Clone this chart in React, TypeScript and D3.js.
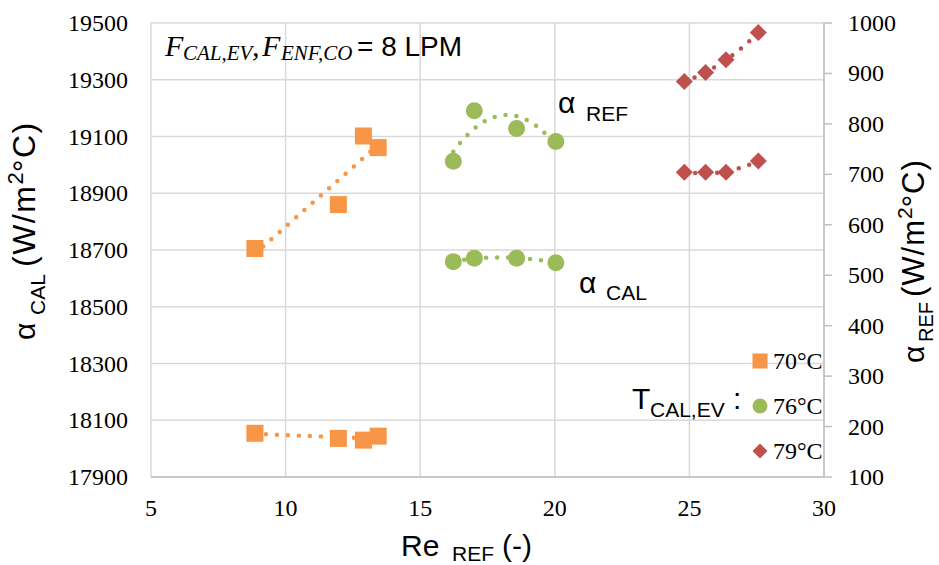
import React from "react";
import * as d3 from "d3";

// ---- data ----
const reRef70 = [8.86, 11.96, 12.89, 13.44];
const alphaCal70 = [18054, 18036, 18030, 18044];
const alphaRef70 = [553, 640, 776, 753];

const reRef76 = [16.23, 17.01, 18.58, 20.04];
const alphaCal76 = [18659, 18671, 18671, 18655];
const alphaRef76 = [726, 826, 791, 765];

const reRef79 = [24.81, 25.6, 26.36, 27.56];
const alphaCal79 = [18974, 18974, 18974, 19014];
const alphaRef79 = [884, 902, 927, 981];

const xTicks = [5, 10, 15, 20, 25, 30];
const yLeftTicks = [17900, 18100, 18300, 18500, 18700, 18900, 19100, 19300, 19500];
const yRightTicks = [100, 200, 300, 400, 500, 600, 700, 800, 900, 1000];
const legendLabels = ["70°C", "76°C", "79°C"];

const ORANGE = "#F79646";
const GREEN = "#9BBB59";
const RED = "#C0504D";
const GRID = "#d9d9d9";
const AXIS = "#bfbfbf";
const SERIF = "'Liberation Serif', 'DejaVu Serif', serif";
const SANS = "'Liberation Sans', Arial, sans-serif";

const W = 939;
const H = 565;

const x = d3.scaleLinear().domain([5, 30]).range([151, 824]);
const yL = d3.scaleLinear().domain([17900, 19500]).range([477, 23]);
const yR = d3.scaleLinear().domain([100, 1000]).range([477, 23]);

function polyFit(xs: number[], ys: number[], deg: number) {
  const mx = d3.mean(xs) as number;
  const n = deg + 1;
  const A: number[][] = Array.from({ length: n }, () => new Array(n + 1).fill(0));
  xs.forEach((xv, i) => {
    const t = xv - mx;
    for (let r = 0; r < n; r++) {
      for (let c = 0; c < n; c++) A[r][c] += Math.pow(t, r + c);
      A[r][n] += Math.pow(t, r) * ys[i];
    }
  });
  for (let i = 0; i < n; i++) {
    let p = i;
    for (let k = i + 1; k < n; k++) if (Math.abs(A[k][i]) > Math.abs(A[p][i])) p = k;
    [A[i], A[p]] = [A[p], A[i]];
    for (let k = i + 1; k < n; k++) {
      const f = A[k][i] / A[i][i];
      for (let c = i; c <= n; c++) A[k][c] -= f * A[i][c];
    }
  }
  const coef = new Array(n).fill(0);
  for (let i = n - 1; i >= 0; i--) {
    let s = A[i][n];
    for (let c = i + 1; c < n; c++) s -= A[i][c] * coef[c];
    coef[i] = s / A[i][i];
  }
  return (xv: number) => coef.reduce((acc, cf, i) => acc + cf * Math.pow(xv - mx, i), 0);
}

function trendPath(xs: number[], ys: number[], deg: number, ys2: (v: number) => number) {
  const f = polyFit(xs, ys, deg);
  const [a, b] = d3.extent(xs) as [number, number];
  const pts = d3.range(0, 61).map((i) => a + ((b - a) * i) / 60);
  const line = d3
    .line<number>()
    .x((v) => x(v))
    .y((v) => ys2(f(v)));
  return line(pts) as string;
}

type Series = {
  xs: number[];
  ys: number[];
  scale: (v: number) => number;
  color: string;
  shape: "square" | "circle" | "diamond";
  deg: number;
};

const series: Series[] = [
  { xs: reRef70, ys: alphaRef70, scale: yR, color: ORANGE, shape: "square", deg: 1 },
  { xs: reRef70, ys: alphaCal70, scale: yL, color: ORANGE, shape: "square", deg: 1 },
  { xs: reRef76, ys: alphaRef76, scale: yR, color: GREEN, shape: "circle", deg: 2 },
  { xs: reRef76, ys: alphaCal76, scale: yL, color: GREEN, shape: "circle", deg: 2 },
  { xs: reRef79, ys: alphaRef79, scale: yR, color: RED, shape: "diamond", deg: 2 },
  { xs: reRef79, ys: alphaCal79, scale: yL, color: RED, shape: "diamond", deg: 2 },
];

function Marker({ shape, cx, cy, color, size }: { shape: string; cx: number; cy: number; color: string; size: number }) {
  if (shape === "square")
    return <rect x={cx - size / 2} y={cy - size / 2} width={size} height={size} fill={color} />;
  if (shape === "circle") return <circle cx={cx} cy={cy} r={size / 2} fill={color} />;
  const s = size / Math.SQRT2;
  return (
    <rect
      x={-s / 2}
      y={-s / 2}
      width={s}
      height={s}
      fill={color}
      transform={`translate(${cx},${cy}) rotate(45)`}
    />
  );
}

export default function App() {
  const legendShapes = ["square", "circle", "diamond"];
  const legendColors = [ORANGE, GREEN, RED];
  const legendY = [361, 406, 451];
  return (
    <div style={{ position: "absolute", left: 0, top: 0 }}>
      <svg width={W} height={H} style={{ display: "block", background: "#fff" }}>
        {/* grid */}
        {yLeftTicks.map((t) => (
          <line key={"h" + t} x1={151} x2={824} y1={yL(t)} y2={yL(t)} stroke={GRID} strokeWidth={1.5} />
        ))}
        {xTicks.map((t) => (
          <line key={"v" + t} x1={x(t)} x2={x(t)} y1={23} y2={477} stroke={GRID} strokeWidth={1.5} />
        ))}
        {/* axes */}
        <line x1={151} x2={824} y1={477} y2={477} stroke={AXIS} strokeWidth={1.5} />
        <line x1={824} x2={824} y1={23} y2={477} stroke={AXIS} strokeWidth={1.5} />
        {yRightTicks.map((t) => (
          <line key={"rt" + t} x1={824} x2={832} y1={yR(t)} y2={yR(t)} stroke={AXIS} strokeWidth={1.5} />
        ))}

        {/* tick labels */}
        {yLeftTicks.map((t) => (
          <text key={"lt" + t} x={128} y={yL(t) + 8} textAnchor="end" fontFamily={SERIF} fontSize={24} fill="#000">
            {t}
          </text>
        ))}
        {yRightTicks.map((t) => (
          <text key={"rl" + t} x={848} y={yR(t) + 8} textAnchor="start" fontFamily={SERIF} fontSize={24} fill="#000">
            {t}
          </text>
        ))}
        {xTicks.map((t) => (
          <text key={"xl" + t} x={x(t)} y={516} textAnchor="middle" fontFamily={SERIF} fontSize={24} fill="#000">
            {t}
          </text>
        ))}

        {/* markers */}
        {series.map((s, si) =>
          s.xs.map((xv, i) => (
            <Marker key={`m${si}-${i}`} shape={s.shape} cx={x(xv)} cy={s.scale(s.ys[i])} color={s.color} size={17} />
          ))
        )}

        {/* trendlines */}
        {series.map((s, si) => (
          <path
            key={"t" + si}
            d={trendPath(s.xs, s.ys, s.deg, s.scale)}
            fill="none"
            stroke={s.color}
            strokeWidth={4.5}
            strokeDasharray="0 11"
            strokeLinecap="round"
          />
        ))}

        {/* annotation top-left */}
        <text fontFamily={SERIF} fontStyle="italic" fill="#000">
          <tspan x={165} y={56} fontSize={30}>F</tspan>
          <tspan x={183} y={60} fontSize={21}>CAL,EV</tspan>
          <tspan x={252} y={56} fontSize={30}>,</tspan>
          <tspan x={262} y={56} fontSize={30}>F</tspan>
          <tspan x={281} y={60} fontSize={21}>ENF,CO</tspan>
        </text>
        <text x={357} y={56} fontFamily={SANS} fontSize={28} fill="#000">
          = 8 LPM
        </text>

        {/* series labels */}
        <text fontFamily={SANS} fill="#000">
          <tspan x={558} y={113} fontSize={30}>α</tspan>
          <tspan x={586} y={121} fontSize={21}>REF</tspan>
        </text>
        <text fontFamily={SANS} fill="#000">
          <tspan x={579} y={293} fontSize={30}>α</tspan>
          <tspan x={606} y={300} fontSize={21}>CAL</tspan>
        </text>

        {/* legend */}
        <text fontFamily={SANS} fill="#000">
          <tspan x={632} y={409} fontSize={30}>T</tspan>
          <tspan x={650} y={417} fontSize={21}>CAL,EV</tspan>
          <tspan x={733} y={409} fontSize={30}>:</tspan>
        </text>
        {legendLabels.map((lab, i) => (
          <g key={"lg" + i}>
            <Marker shape={legendShapes[i]} cx={760} cy={legendY[i]} color={legendColors[i]} size={15} />
            <text x={773} y={legendY[i] + 8} fontFamily={SERIF} fontSize={24} fill="#000">
              {lab}
            </text>
          </g>
        ))}

        {/* axis titles */}
        <text fontFamily={SANS} fill="#000">
          <tspan x={401} y={556} fontSize={30}>Re</tspan>
          <tspan x={452} y={561} fontSize={21}>REF</tspan>
          <tspan x={502} y={556} fontSize={30}>(-)</tspan>
        </text>
        <g transform="translate(35,340) rotate(-90)">
          <text fontFamily={SANS} fill="#000">
            <tspan x={0} y={0} fontSize={30}>α</tspan>
            <tspan x={25} y={10} fontSize={21}>CAL</tspan>
            <tspan x={73} y={0} fontSize={32} letterSpacing={1.5}>(W/m</tspan>
            <tspan dy={-12} fontSize={22}>2</tspan>
            <tspan dy={12} fontSize={32} letterSpacing={1.5}>°C)</tspan>
          </text>
        </g>
        <g transform="translate(924,363) rotate(-90)">
          <text fontFamily={SANS} fill="#000">
            <tspan x={0} y={0} fontSize={30}>α</tspan>
            <tspan x={21} y={9} fontSize={20}>REF</tspan>
            <tspan x={66} y={0} fontSize={31} letterSpacing={1}>(W/m</tspan>
            <tspan dy={-12} fontSize={21}>2</tspan>
            <tspan dy={12} fontSize={31} letterSpacing={1}>°C)</tspan>
          </text>
        </g>
      </svg>
    </div>
  );
}
